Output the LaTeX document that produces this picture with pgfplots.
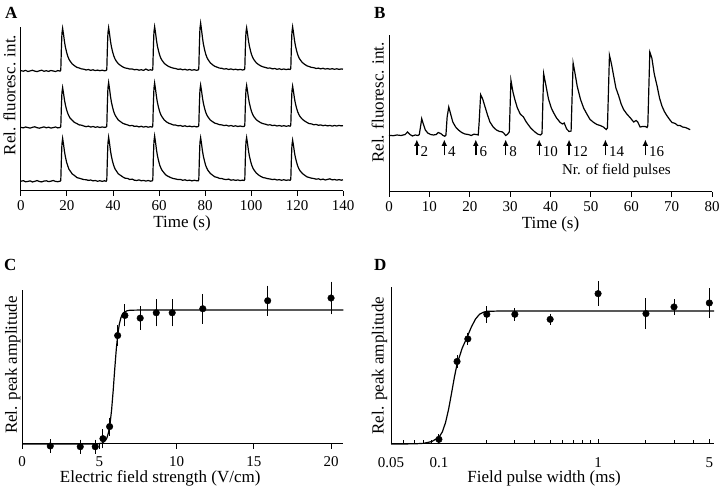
\documentclass[border=0pt]{standalone}
\usepackage{fontspec}
\setmainfont{Liberation Serif}
\usepackage{pgfplots}
\pgfplotsset{compat=1.18}
\usetikzlibrary{arrows.meta}
\newcommand\tfs{\fontsize{15}{15}\selectfont}
\newcommand\lfs{\fontsize{17}{17}\selectfont}
\pgfplotsset{
  myax/.style={scale only axis, axis lines=left, axis line style={-, line width=1pt},
    tick style={line width=1pt, black}, major tick length=5pt, minor tick length=4pt,
    tick align=outside, ytick=\empty, clip=false,
    /pgf/number format/assume math mode=true,
    xticklabel style={font=\tfs, inner sep=0pt, anchor=north, text height=10.1pt, text depth=0pt},
    xlabel style={font=\lfs, at={(axis description cs:0.5,0)}, anchor=base},
    ylabel style={font=\lfs, anchor=base, inner sep=0pt},
  },
  trace/.style={black, line width=1.2pt, no marks},
  pts/.style={black, only marks, mark=*, mark size=3.3pt,
    error bars/.cd, y dir=both, y explicit, error bar style={line width=1pt, black},
    error mark=-, error mark options={mark size=3.6pt, line width=1pt, black}},
}
\newcommand\parrow[2]{%
  \draw[-{Latex[length=6.5pt,width=6pt]}, line width=1.4pt] (axis cs:#1,36.5) -- (axis cs:#1,52.5);
  \node[font=\tfs, anchor=base west, inner sep=0pt, xshift=3.5pt] at (axis cs:#1,35) {#2};}
\begin{document}
\begin{tikzpicture}
\path (0,0) rectangle (720pt,492pt);
% ---------------- A
\begin{axis}[myax, at={(21pt,301pt)}, anchor=south west, width=322pt, height=164pt,
  xmin=0, xmax=140, ymin=0, ymax=164, xtick={0,20,...,140}, xticklabel shift=4pt,
  xlabel={Time (s)}, xlabel style={yshift=-36.7pt},
  ylabel={Rel. fluoresc. int.}, ylabel style={at={(axis description cs:0,0.585)}, yshift=5.5pt}]
\addplot[trace] coordinates {
(0,9.8)(1,10.3)(2,9.2)(3,9.6)(4,10.1)(5,9.0)(6,9.7)(7,10.4)(8,9.5)(9,9.1)(10,9.9)(11,10.2)(12,9.4)(13,9.8)(14,10.5)(15,9.6)(16,9.3)(17,9.8)
(17.3,10.6)(17.55,31)(17.8,47)(18.1,52.6)(18.5,46.5)(18.9,39.6)(19.3,34.3)(19.8,29)(20.3,25.3)(20.8,22)(21.3,20.3)(22.3,17)(23.3,15.4)(24.3,13.4)(25.3,12.8)(26.3,12.1)(27.3,11.4)(28.3,11.3)(29.3,10.6)(30.3,11)(31.3,10.1)(32.3,10.5)(33.3,9.7)(34.3,10.3)(35.3,9.6)(36.3,10.2)(37,9.7)
(37.3,10.9)(37.55,32)(37.8,48)(38.1,53.8)(38.5,47.5)(38.9,40.3)(39.3,34.8)(39.8,29.6)(40.3,25.6)(40.8,22.5)(41.3,20.6)(42.3,17.2)(43.3,15.6)(44.3,14)(45.3,12.7)(46.3,12.6)(47.3,11.5)(48.3,11.9)(49.3,10.8)(50.3,10.5)(51.3,11.1)(52.3,10.2)(53.3,10.6)(54.3,9.9)(55.3,10.5)(56.3,9.8)(57,10.1)
(57.3,11)(57.55,33)(57.8,49.5)(58.1,55)(58.5,48.5)(58.9,41.2)(59.3,35.5)(59.8,30.4)(60.3,26)(60.8,23)(61.3,20.8)(62.3,17.8)(63.3,15.5)(64.3,14.3)(65.3,13.2)(66.3,12.4)(67.3,12)(68.3,11.4)(69.3,11.6)(70.3,10.7)(71.3,11.2)(72.3,10.4)(73.3,10.9)(74.3,10.1)(75.3,10.7)(76.3,10.3)(77,10.1)
(77.3,11.3)(77.55,32)(77.8,48.5)(78.1,53.3)(78.5,47)(78.9,40)(79.3,34.6)(79.8,29.8)(80.3,25.5)(80.8,22.8)(81.3,20.5)(82.3,17.6)(83.3,15.8)(84.3,14.1)(85.3,13.6)(86.3,12.6)(87.3,12.5)(88.3,11.7)(89.3,11.4)(90.3,11.9)(91.3,10.8)(92.3,11.2)(93.3,10.6)(94.3,11.1)(95.3,10.4)(96.3,10.9)(97,10.5)
(97.3,11.5)(97.55,33)(97.8,49)(98.1,53.5)(98.5,47.3)(98.9,40.3)(99.3,35)(99.8,30)(100.3,26)(100.8,23)(101.3,21)(102.3,18)(103.3,16)(104.3,14.5)(105.3,13.4)(106.3,13)(107.3,12.3)(108.3,12)(109.3,11.4)(110.3,11.8)(111.3,11)(112.3,11.4)(113.3,10.7)(114.3,11.3)(115.3,10.6)(116.3,11.1)(117,10.7)
(117.3,11.8)(117.55,31)(117.8,46)(118.1,50.8)(118.5,45)(118.9,38.5)(119.3,33.5)(119.8,29)(120.3,25)(120.8,22.3)(121.3,20.3)(122.3,17.6)(123.3,15.8)(124.3,14.2)(125.3,13.5)(126.3,12.8)(127.3,12.5)(128.3,11.8)(129.3,12.2)(130.3,11.3)(131.3,11.9)(132.3,11)(133.3,11.6)(134.3,12.2)(135.3,11.1)(136.3,11.5)(137.3,10.9)(138.3,11.4)(139.3,10.8)(140,11.2)
};
\addplot[trace] coordinates {
(0,63.6)(1,63.1)(2,64)(3,63.4)(4,62.9)(5,63.7)(6,64.2)(7,63.3)(8,62.8)(9,63.5)(10,64.1)(11,63.2)(12,63.8)(13,62.9)(14,63.4)(15,64)(16,63.1)(17,63.5)
(17.3,64.4)(17.55,84)(17.8,98.5)(18.1,103.4)(18.5,97.5)(18.9,91)(19.3,86.2)(19.8,81.5)(20.3,77.8)(20.8,75.2)(21.3,73)(22.3,70.6)(23.3,68.5)(24.3,67.4)(25.3,66.1)(26.3,65.8)(27.3,65)(28.3,64.3)(29.3,64.9)(30.3,63.9)(31.3,64.5)(32.3,63.7)(33.3,64.2)(34.3,63.5)(35.3,64.1)(36.3,63.6)(37,63.9)
(37.3,64.8)(37.55,87)(37.8,103)(38.1,108.4)(38.5,102)(38.9,94.8)(39.3,89)(39.8,83.8)(40.3,79.5)(40.8,76.4)(41.3,74.4)(42.3,71)(43.3,69.3)(44.3,67.6)(45.3,66.8)(46.3,66.1)(47.3,65.2)(48.3,65.6)(49.3,64.6)(50.3,64.9)(51.3,64.1)(52.3,64.7)(53.3,63.9)(54.3,64.5)(55.3,63.8)(56.3,64.3)(57,63.9)
(57.3,65)(57.55,87)(57.8,102.5)(58.1,108)(58.5,101.6)(58.9,94.4)(59.3,88.6)(59.8,83.5)(60.3,79.3)(60.8,76.3)(61.3,74.2)(62.3,71)(63.3,69)(64.3,67.7)(65.3,66.9)(66.3,66)(67.3,65.9)(68.3,65.1)(69.3,65.5)(70.3,64.6)(71.3,65.2)(72.3,64.4)(73.3,64.9)(74.3,64.2)(75.3,64.7)(76.3,64.1)(77,64.4)
(77.3,65.3)(77.55,86)(77.8,101)(78.1,106)(78.5,100)(78.9,93.2)(79.3,87.8)(79.8,82.8)(80.3,78.8)(80.8,76)(81.3,74)(82.3,71)(83.3,69.3)(84.3,67.8)(85.3,67.2)(86.3,66.3)(87.3,66.1)(88.3,65.4)(89.3,65.8)(90.3,64.9)(91.3,65.5)(92.3,64.7)(93.3,65.2)(94.3,64.5)(95.3,65)(96.3,64.4)(97,64.6)
(97.3,65.6)(97.55,86)(97.8,100.6)(98.1,105.6)(98.5,99.7)(98.9,93)(99.3,87.8)(99.8,83)(100.3,79)(100.8,76.2)(101.3,74.2)(102.3,71.3)(103.3,69.6)(104.3,68.2)(105.3,67.3)(106.3,66.8)(107.3,66)(108.3,66.2)(109.3,65.4)(110.3,65.8)(111.3,65)(112.3,65.5)(113.3,64.8)(114.3,65.3)(115.3,64.7)(116.3,65.2)(117,64.8)
(117.3,65.9)(117.55,85.5)(117.8,100)(118.1,104.9)(118.5,99)(118.9,92.5)(119.3,87.6)(119.8,83)(120.3,79.2)(120.8,76.6)(121.3,74.5)(122.3,71.8)(123.3,70)(124.3,68.6)(125.3,67.4)(126.3,67.1)(127.3,66.2)(128.3,66.6)(129.3,65.7)(130.3,66.1)(131.3,65.3)(132.3,65.8)(133.3,65.1)(134.3,65.6)(135.3,64.9)(136.3,65.5)(137.3,65)(138.3,65.6)(139.3,65.1)(140,65.4)
};
\addplot[trace] coordinates {
(0,120.3)(1,119.8)(2,120.6)(3,119.5)(4,120.1)(5,120.7)(6,119.9)(7,119.4)(8,120.2)(9,120.8)(10,119.7)(11,120.3)(12,119.6)(13,120.5)(14,120)(15,119.5)(16,120.4)(17,119.9)
(17.3,121)(17.55,142)(17.8,157.5)(18.1,162.7)(18.5,156.5)(18.9,149.5)(19.3,144)(19.8,139)(20.3,135)(20.8,132)(21.3,130)(22.3,127)(23.3,125.2)(24.3,123.6)(25.3,123)(26.3,122.1)(27.3,121.8)(28.3,121)(29.3,121.5)(30.3,120.6)(31.3,121.2)(32.3,120.4)(33.3,120.9)(34.3,120.3)(35.3,120.8)(36.3,120.2)(37,120.5)
(37.3,121.3)(37.55,142.5)(37.8,158)(38.1,163.3)(38.5,157)(38.9,150)(39.3,144.4)(39.8,139.4)(40.3,135.4)(40.8,132.4)(41.3,130.3)(42.3,127.3)(43.3,125.5)(44.3,124)(45.3,123)(46.3,122.6)(47.3,121.9)(48.3,122.1)(49.3,121.2)(50.3,121.6)(51.3,120.8)(52.3,121.3)(53.3,120.6)(54.3,122)(55.3,120.7)(56.3,121.2)(57,120.8)
(57.3,121.6)(57.55,143)(57.8,159)(58.1,164.3)(58.5,158)(58.9,150.8)(59.3,145)(59.8,140)(60.3,135.8)(60.8,132.8)(61.3,130.7)(62.3,127.6)(63.3,125.8)(64.3,124.4)(65.3,123.5)(66.3,122.8)(67.3,122.4)(68.3,121.6)(69.3,122)(70.3,121.2)(71.3,121.7)(72.3,120.9)(73.3,121.5)(74.3,120.8)(75.3,121.3)(76.3,120.7)(77,121)
(77.3,122)(77.55,145)(77.8,162.5)(78.1,167.9)(78.5,161)(78.9,153.3)(79.3,147)(79.8,141.5)(80.3,137)(80.8,133.7)(81.3,131.5)(82.3,128.2)(83.3,126.2)(84.3,124.6)(85.3,123.8)(86.3,122.9)(87.3,122.7)(88.3,121.9)(89.3,122.3)(90.3,121.5)(91.3,122.1)(92.3,121.3)(93.3,121.8)(94.3,121.1)(95.3,121.6)(96.3,121)(97,121.3)
(97.3,122.2)(97.55,143)(97.8,158.5)(98.1,163.2)(98.5,157)(98.9,150.2)(99.3,145)(99.8,140)(100.3,136)(100.8,133.2)(101.3,131.2)(102.3,128.2)(103.3,126.4)(104.3,125)(105.3,124.1)(106.3,123.5)(107.3,122.8)(108.3,123)(109.3,122.1)(110.3,122.5)(111.3,121.7)(112.3,122.2)(113.3,121.5)(114.3,122)(115.3,121.4)(116.3,121.9)(117,121.5)
(117.3,122.5)(117.55,143.5)(117.8,159)(118.1,164.2)(118.5,158)(118.9,151)(119.3,145.5)(119.8,140.5)(120.3,136.5)(120.8,133.5)(121.3,131.5)(122.3,128.5)(123.3,126.7)(124.3,125.2)(125.3,124.4)(126.3,123.6)(127.3,123.3)(128.3,122.5)(129.3,122.9)(130.3,122.1)(131.3,122.7)(132.3,121.9)(133.3,122.4)(134.3,121.8)(135.3,122.3)(136.3,121.7)(137.3,122.2)(138.3,121.6)(139.3,122.1)(140,121.8)
};
\end{axis}
\node[font=\bfseries\lfs, anchor=base west, inner sep=0pt] at (5pt,473pt) {A};
% ---------------- B
\begin{axis}[myax, at={(389pt,300pt)}, anchor=south west, width=323pt, height=157pt,
  xmin=0, xmax=80, ymin=0, ymax=157, xtick={0,10,...,80}, xticklabel shift=4pt,
  xlabel={Time (s)}, xlabel style={yshift=-36.7pt},
  ylabel={Rel. fluoresc. int.}, ylabel style={at={(axis description cs:0,0.57)}, yshift=5.5pt}]
\addplot[trace] coordinates {
(0,56.7)(1,56.3)(2,57)(3,56.5)(4,57.5)(4.6,60)(5.2,57.5)(5.8,56)(6.5,57)(7.2,56.5)(7.5,57.5)(7.8,65)(8.1,73.3)(8.5,68)(9,62)(9.6,59)(10.3,57.5)(11,57)(11.7,57.5)(12.2,59.5)(12.8,58.5)(13.4,56.5)(13.8,55.8)(14.1,57)(14.4,75)(14.8,85)(15.2,79)(15.8,70)(16.5,65)(17.2,62)(18,59.5)(18.8,58)(19.6,57.5)(20.4,56.5)(21,57.8)(21.6,57.5)(22.1,57)(22.3,68)(22.7,97.3)(23.2,93)(23.8,85)(24.4,77)(25,70)(25.8,65)(26.6,62)(27.4,60.5)(28,60.2)(28.4,59)(28.9,56.5)(29.3,57.5)(29.8,60)(30.2,111.7)(30.7,100)(31.2,92)(31.8,84)(32.5,78)(33.3,75)(34,70)(35,64.5)(36,60.5)(36.8,58)(37.5,57)(37.9,58.5)(38.3,118.3)(38.8,108)(39.5,93)(40.2,84)(40.8,79)(41.5,74)(42.4,69.5)(43,68)(43.4,69)(44,63)(44.6,60.5)(45.1,61)(45.6,129)(46.1,118)(46.6,106)(47.4,93)(48.2,84)(49,78)(49.8,72.5)(50.7,69.5)(51.5,67.5)(52.3,66.5)(53.1,65)(53.8,62.5)(54.1,64)(54.6,136.7)(55.1,128)(55.6,117)(56.2,104)(56.9,96)(57.5,88)(58.1,82.5)(58.9,78)(59.8,74)(60.6,70)(61.2,71.5)(61.6,70)(62.2,65)(62.8,65.5)(63.5,65.5)(63.9,64.5)(64.1,66)(64.6,140)(65.1,134)(65.7,118)(66.4,106)(67,94)(67.6,86)(68.2,80.5)(68.8,76.5)(69.5,72.5)(70.1,69.5)(70.9,68.5)(71.5,66.5)(72.1,66.5)(72.7,65)(73.4,64.5)(74,63.5)(74.6,62.3)
};
\parrow{6.9}{2}
\parrow{13.7}{4}
\parrow{21.5}{6}
\parrow{28.9}{8}
\parrow{37.2}{10}
\parrow{44.6}{12}
\parrow{53.6}{14}
\parrow{63.5}{16}
\node[font=\tfs, anchor=base west, inner sep=0pt] at (axis cs:42.8,17) {Nr. of field pulses};
\end{axis}
\node[font=\bfseries\lfs, anchor=base west, inner sep=0pt] at (374pt,473pt) {B};
% ---------------- C
\begin{axis}[myax, at={(22pt,48pt)}, anchor=south west, width=321.4pt, height=154pt,
  xmin=0, xmax=20.8, ymin=0, ymax=1.15, xtick={0,5,10,15,20}, xticklabel shift=7pt,
  xlabel={Electric field strength (V/cm)}, xlabel style={at={(axis description cs:0.43,0)}, yshift=-39pt},
  ylabel={Rel. peak amplitude}, ylabel style={at={(axis description cs:0,0.513)}, yshift=5pt}]
\addplot[black, line width=1.2pt, no marks] coordinates {
(0,0)(4.8,0)(5.0,0.003)(5.2,0.007)(5.4,0.026)(5.5,0.047)(5.6,0.087)(5.7,0.153)(5.8,0.257)(5.9,0.397)(6.0,0.557)(6.1,0.705)(6.2,0.82)(6.3,0.896)(6.4,0.943)(6.5,0.969)(6.6,0.983)(6.8,0.995)(7.0,0.999)(7.5,1)(20.8,1)
};
\addplot[pts] table[x=x, y=y, y error=e] {
x y e
1.83 -0.015 0.025
3.77 -0.02 0.025
4.74 -0.02 0.025
5.24 0.04 0.045
5.67 0.13 0.04
6.19 0.81 0.05
6.66 0.96 0.055
7.65 0.94 0.06
8.69 0.98 0.075
9.72 0.98 0.075
11.7 1.01 0.085
15.9 1.07 0.085
20.0 1.09 0.095
};
\end{axis}
\node[font=\bfseries\lfs, anchor=base west, inner sep=0pt] at (4pt,221pt) {C};
% ---------------- D
\begin{axis}[myax, xmode=log, at={(391pt,48pt)}, anchor=south west, width=323pt, height=157pt,
  xmin=0.05, xmax=5.35, ymin=0, ymax=1.18, tick align=inside,
  xtick={0.05,0.1,1,5}, xticklabels={0.05,0.1,1,5},
  minor xtick={0.06,0.07,0.08,0.09,0.2,0.3,0.4,0.5,0.6,0.7,0.8,0.9,2,3,4},
  xticklabel shift=13pt,
  xlabel={Field pulse width (ms)}, xlabel style={at={(axis description cs:0.474,0)}, yshift=-39pt},
  ylabel={Rel. peak amplitude}, ylabel style={at={(axis description cs:0,0.5)}, yshift=7.5pt}]
\addplot[black, line width=1.2pt, no marks] coordinates {
(0.05,0)(0.07,0.001)(0.08,0.005)(0.09,0.018)(0.1,0.05)(0.105,0.09)(0.11,0.16)(0.115,0.26)(0.12,0.38)(0.125,0.5)(0.13,0.6)(0.14,0.72)(0.15,0.8)(0.16,0.88)(0.17,0.94)(0.18,0.975)(0.19,0.99)(0.2,0.997)(0.25,1)(5.35,1)
};
\addplot[pts] table[x=x, y=y, y error=e] {
x y e
0.1 0.035 0.01
0.13 0.62 0.02
0.152 0.79 0.02
0.2 0.975 0.035
0.3 0.975 0.02
0.5 0.937 0.015
1.0 1.13 0.065
2.0 0.98 0.09
3.0 1.03 0.03
5.0 1.06 0.085
};
\end{axis}
\node[font=\bfseries\lfs, anchor=base west, inner sep=0pt] at (374pt,221pt) {D};
\end{tikzpicture}
\end{document}
